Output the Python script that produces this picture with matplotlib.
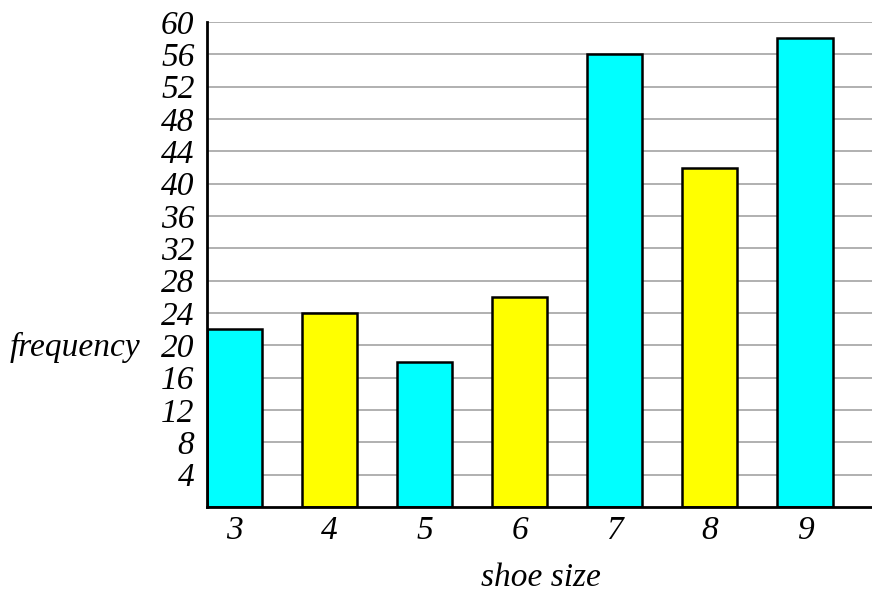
import matplotlib.pyplot as plt

sizes = ['3', '4', '5', '6', '7', '8', '9']
freq = [22, 24, 18, 26, 56, 42, 58]
colors = ['#00ffff', '#ffff00', '#00ffff', '#ffff00', '#00ffff', '#ffff00', '#00ffff']
yticks = list(range(4, 61, 4))

plt.rcParams['font.family'] = ['Liberation Serif', 'DejaVu Serif']

fig = plt.figure(figsize=(8.72, 5.97), dpi=100)
ax = fig.add_axes([207/872, 1 - 507/597, 1 - 207/872, 485/597])

x = list(range(len(sizes)))
ax.bar(x, freq, width=0.58, color=colors, edgecolor='black', linewidth=1.8, zorder=3)

ax.set_xlim(-0.29, 6.705)
ax.set_ylim(0, 60)
ax.set_yticks(yticks)
ax.set_yticklabels([str(v) for v in yticks], fontsize=24, style='italic')
ax.set_xticks(x)
ax.set_xticklabels(sizes, fontsize=24, style='italic')
ax.tick_params(axis='y', length=0, pad=9)
ax.tick_params(axis='x', length=0, pad=6)
ax.yaxis.grid(True, color='#aaaaaa', linewidth=1.3, zorder=0)
ax.set_axisbelow(True)

for s in ['top', 'right']:
    ax.spines[s].set_visible(False)
for s in ['left', 'bottom']:
    ax.spines[s].set_linewidth(2)
    ax.spines[s].set_zorder(4)

fig.text(10/872, 1 - 347/597, 'frequency', fontsize=24, style='italic', ha='left', va='center')
fig.text(541/872, 1 - 578/597, 'shoe size', fontsize=24, style='italic', ha='center', va='center')

fig.savefig('out.png', dpi=100)
